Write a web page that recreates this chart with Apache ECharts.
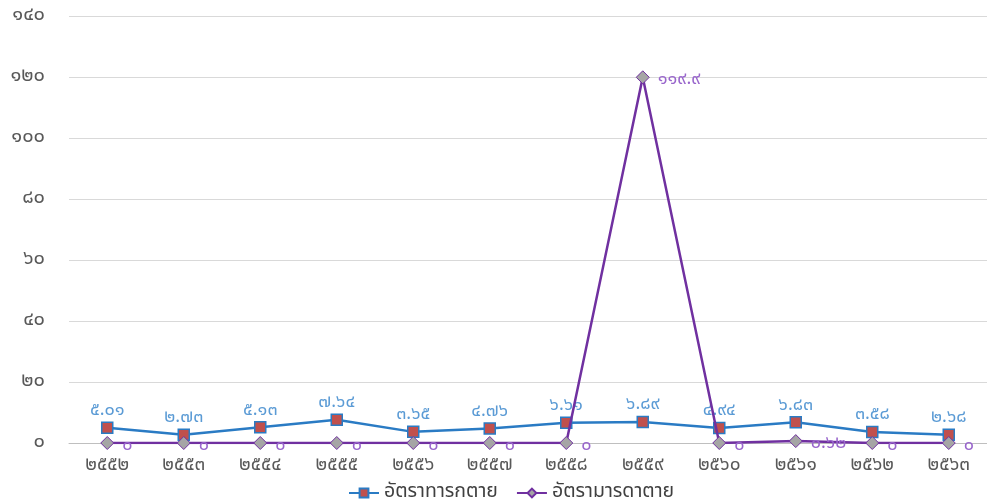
<!DOCTYPE html>
<html><head><meta charset="utf-8">
<script src="https://cdn.jsdelivr.net/npm/echarts@6/dist/echarts.min.js"></script>
<style>html,body{margin:0;padding:0;background:#fff}#c{width:987px;height:504px}</style>
</head><body><div id="c"></div>
<script>
const categories = ['2552','2553','2554','2555','2556','2557','2558','2559','2560','2561','2562','2563'];
const infantRate = [5.01, 2.73, 5.13, 7.64, 3.65, 4.76, 6.61, 6.89, 4.94, 6.83, 3.58, 2.68];
const maternalRate = [0, 0, 0, 0, 0, 0, 0, 119.9, 0, 0.62, 0, 0];
const seriesNames = ['อัตราทารกตาย', 'อัตรามารดาตาย'];
const yTicks = {min: 0, max: 140, interval: 20};

const TH = '๐๑๒๓๔๕๖๗๘๙';
function thai(s){ return String(s).replace(/[0-9]/g, d => TH[+d]); }
const FONT = 'Tahoma, "Noto Sans Thai", "Noto Sans", sans-serif';

const chart = echarts.init(document.getElementById('c'));
chart.setOption({
  animation: false,
  textStyle: {fontFamily: FONT},
  grid: {left: 69, right: 0, top: 16, bottom: 61, containLabel: false},
  legend: {
    bottom: -4, left: 343, itemWidth: 30, itemHeight: 11, itemGap: 18,
    textStyle: {fontSize: 19.5, color: '#404040', fontFamily: FONT},
    data: seriesNames
  },
  xAxis: {
    type: 'category', data: categories, boundaryGap: true,
    axisLine: {lineStyle: {color: '#bfbfbf'}}, axisTick: {show: false},
    axisLabel: {formatter: v => thai(v), color: '#595959', fontSize: 19, margin: 14}
  },
  yAxis: {
    type: 'value', min: yTicks.min, max: yTicks.max, interval: yTicks.interval,
    axisLine: {show: false}, axisTick: {show: false},
    axisLabel: {formatter: v => thai(v), color: '#595959', fontSize: 20, margin: 24},
    splitLine: {lineStyle: {color: '#d9d9d9'}}
  },
  series: [
    {
      name: seriesNames[0], type: 'line', data: infantRate,
      symbol: 'rect', symbolSize: 11,
      lineStyle: {color: '#2a7bc4', width: 2.5},
      itemStyle: {color: '#c0504d', borderColor: '#2a7bc4', borderWidth: 1.5},
      label: {show: true, position: 'top', distance: 1, color: '#5b9bd5', fontSize: 18,
        formatter: p => thai(p.value.toFixed(2))},
      z: 2
    },
    {
      name: seriesNames[1], type: 'line', data: maternalRate,
      symbol: 'diamond', symbolSize: 13,
      lineStyle: {color: '#7030a0', width: 2.5},
      itemStyle: {color: '#a5a5a5', borderColor: '#7030a0', borderWidth: 1},
      label: {show: true, position: 'right', distance: 8, offset: [0, 3], color: '#9966cc', fontSize: 18,
        formatter: p => thai(p.value === 0 ? '0' : String(p.value))},
      z: 3
    }
  ]
});
</script></body></html>
